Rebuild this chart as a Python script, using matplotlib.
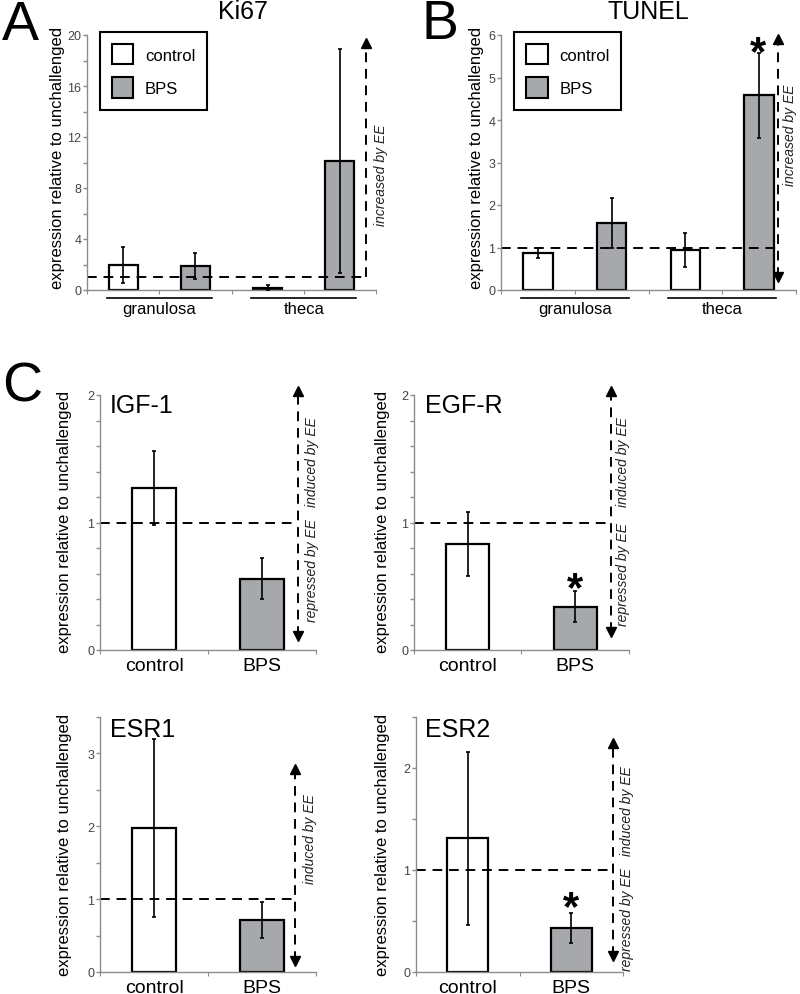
import matplotlib.pyplot as plt
from matplotlib.patches import Patch
import numpy as np

plt.rcParams['font.family'] = ['Liberation Sans', 'DejaVu Sans']

# panel A / B data (order: granulosa control, granulosa BPS, theca control, theca BPS)
groups = ['granulosa', 'theca']
ki67_mean = [1.95, 1.87, 0.15, 10.1]
ki67_err = [1.4, 1.0, 0.22, 8.8]
tunel_mean = [0.87, 1.58, 0.95, 4.58]
tunel_err = [0.12, 0.58, 0.4, 1.0]

# panel C data
genes = ['IGF-1', 'EGF-R', 'ESR1', 'ESR2']
treatments = ['control', 'BPS']
ctrl_mean = [1.27, 0.83, 1.98, 1.31]
ctrl_err = [0.29, 0.25, 1.22, 0.85]
bps_mean = [0.56, 0.34, 0.71, 0.43]
bps_err = [0.16, 0.12, 0.25, 0.15]

GRAY = '#a6a8ab'
AXC = '#8c8c8c'
W, H = 800, 995

fig = plt.figure(figsize=(8, 9.95), dpi=100)


def pos(l, r, t, b):
    return [l / W, 1 - b / H, (r - l) / W, (b - t) / H]


def style(ax, ymax, major, minor):
    for s in ['top', 'right']:
        ax.spines[s].set_visible(False)
    for s in ['left', 'bottom']:
        ax.spines[s].set_color(AXC)
        ax.spines[s].set_linewidth(1)
    ax.set_ylim(0, ymax)
    ax.set_yticks(major)
    ax.set_yticks(minor, minor=True)
    ax.tick_params(axis='y', which='both', colors=AXC, length=3, width=1,
                   labelsize=9, labelcolor='#444444', pad=1)


def dashed(ax, xv, x_end, y0, y1, heads):
    ax.plot([0, x_end], [1, 1], color='k', lw=1.4, ls=(0, (5, 3.5)), clip_on=False)
    ax.plot([xv, xv], [y0, y1], color='k', lw=1.4, ls=(0, (5, 3.5)), clip_on=False)
    ax.plot([xv], [y1], marker='^', color='k', ms=7, clip_on=False)
    if heads == 2:
        ax.plot([xv], [y0], marker='v', color='k', ms=7, clip_on=False)


def star(ax, x, y):
    ax.annotate('*', (x, y), xytext=(0, -17), textcoords='offset points',
                ha='center', va='baseline', fontsize=30, fontweight='bold')


def side_text(ax, x, y, s):
    ax.text(x, y, s, rotation=90, ha='center', va='center', fontsize=10,
            style='italic', color='#222222')


# ---------- panels A and B ----------
panels_ab = [
    ('Ki67', ki67_mean, ki67_err, pos(87, 376, 36, 291), 20,
     [0, 4, 8, 12, 16, 20], [2, 6, 10, 14, 18]),
    ('TUNEL', tunel_mean, tunel_err, pos(501, 796, 36, 291), 6,
     [0, 1, 2, 3, 4, 5, 6], []),
]
axes_ab = []
for title, mean, err, p, ymax, major, minor in panels_ab:
    ax = fig.add_axes(p)
    x = np.arange(4) + 0.5
    ax.bar(x, mean, width=0.4, color=['white', GRAY, 'white', GRAY],
           edgecolor='k', linewidth=1.6, zorder=2)
    ax.errorbar(x, mean, yerr=err, fmt='none', ecolor='k', elinewidth=1.2,
                capsize=1.5, capthick=1.2, zorder=3)
    ax.set_xlim(0, 4)
    ax.set_xticks([0, 1, 2, 3, 4])
    ax.set_xticklabels([])
    ax.tick_params(axis='x', colors=AXC, length=3)
    style(ax, ymax, major, minor)
    for i, g in enumerate(groups):
        c = 2 * i + 1
        ax.plot([c - 0.73, c + 0.73], [-0.031, -0.031], color='k', lw=1.2,
                transform=ax.get_xaxis_transform(), clip_on=False)
        ax.text(c, -0.045, g, ha='center', va='top', fontsize=12,
                transform=ax.get_xaxis_transform())
    leg = ax.legend(handles=[Patch(facecolor='white', edgecolor='k', lw=1.5),
                             Patch(facecolor=GRAY, edgecolor='k', lw=1.5)],
                    labels=['control', 'BPS'], loc='upper left',
                    bbox_to_anchor=(0.045, 1.012), borderaxespad=0,
                    fancybox=False, edgecolor='k', framealpha=1, fontsize=12,
                    handlelength=1.3, handleheight=1.55, handletextpad=0.7,
                    labelspacing=0.75, borderpad=0.7)
    leg.get_frame().set_linewidth(1.5)
    axes_ab.append(ax)

axA, axB = axes_ab
dashed(axA, 3.86, 3.86, 1, 19.4, 1)
side_text(axA, 4.07, 9.1, 'increased by EE')
dashed(axB, 3.76, 3.76, 0.3, 5.9, 2)
side_text(axB, 3.92, 3.67, 'increased by EE')
star(axB, 3.49, 5.86)

# ---------- panel C ----------
c_pos = [pos(100, 316, 396, 651), pos(414, 629, 396, 651),
         pos(100, 316, 718, 973), pos(416, 623, 718, 973)]
c_ylim = [2, 2, 3.5, 2.5]
c_major = [[0, 1, 2], [0, 1, 2], [0, 1, 2, 3], [0, 1, 2]]
c_minor = [np.arange(0, 2.01, 0.2), np.arange(0, 2.01, 0.2),
           [0.5, 1.5, 2.5, 3.5], [0.5, 1.5, 2.5]]
c_vx = [1.83, 1.83, 1.81, 1.9]
c_arrow = [(0.11, 2.03), (0.14, 2.03), (0.15, 2.79), (0.16, 2.25)]
c_induced = [(1.96, 1.48), (1.94, 1.48), (1.94, 1.84), (2.04, 1.59)]
c_repressed = [(1.96, 0.63), (1.94, 0.6), None, (2.04, 0.52)]
c_star = [None, (1.5, 0.58), None, (1.5, 0.75)]

axes_c = []
for i, g in enumerate(genes):
    ax = fig.add_axes(c_pos[i])
    x = np.array([0.5, 1.5])
    ax.bar(x, [ctrl_mean[i], bps_mean[i]], width=0.4, color=['white', GRAY],
           edgecolor='k', linewidth=1.6, zorder=2)
    ax.errorbar(x, [ctrl_mean[i], bps_mean[i]], yerr=[ctrl_err[i], bps_err[i]],
                fmt='none', ecolor='k', elinewidth=1.2, capsize=1.5,
                capthick=1.2, zorder=3)
    ax.set_xlim(0, 2)
    ax.set_xticks([0, 1, 2])
    ax.set_xticklabels([])
    ax.set_xticks(x, minor=True)
    ax.set_xticklabels(treatments, minor=True, fontsize=14)
    ax.tick_params(axis='x', which='major', colors=AXC, length=3)
    ax.tick_params(axis='x', which='minor', length=0, pad=5)
    style(ax, c_ylim[i], c_major[i], c_minor[i])
    ax.tick_params(axis='x', which='minor', labelcolor='k', labelsize=14)
    dashed(ax, c_vx[i], c_vx[i], c_arrow[i][0], c_arrow[i][1], 2)
    side_text(ax, c_induced[i][0], c_induced[i][1], 'induced by EE')
    if c_repressed[i] is not None:
        side_text(ax, c_repressed[i][0], c_repressed[i][1], 'repressed by EE')
    if c_star[i] is not None:
        star(ax, c_star[i][0], c_star[i][1])
    axes_c.append(ax)

# titles, labels and panel letters (pixel positions)
def ftext(x, y, s, **kw):
    fig.text(x / W, 1 - y / H, s, **kw)

ftext(243, 19, 'Ki67', ha='center', va='baseline', fontsize=18)
ftext(648, 19, 'TUNEL', ha='center', va='baseline', fontsize=18)
ftext(110, 413, 'IGF-1', ha='left', va='baseline', fontsize=18)
ftext(425, 413, 'EGF-R', ha='left', va='baseline', fontsize=18)
ftext(110, 737, 'ESR1', ha='left', va='baseline', fontsize=18)
ftext(425, 737, 'ESR2', ha='left', va='baseline', fontsize=18)

ftext(2, 40, 'A', ha='left', va='baseline', fontsize=40)
ftext(422, 39, 'B', ha='left', va='baseline', fontsize=40)
ftext(2, 401, 'C', ha='left', va='baseline', fontsize=40)

ylab = 'expression relative to unchallenged'
for (x, y) in [(58, 158), (476, 158), (65, 522), (382, 522), (65, 845), (382, 845)]:
    ftext(x, y, ylab, rotation=90, ha='center', va='center', fontsize=12)

fig.savefig('out.png', dpi=100)
